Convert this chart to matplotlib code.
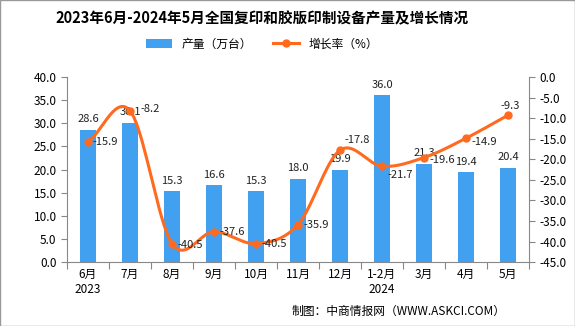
import numpy as np
import matplotlib
matplotlib.use("Agg")
import matplotlib.pyplot as plt

plt.rcParams['font.family'] = ['Noto Sans CJK SC', 'DejaVu Sans']

months = ["6月\n2023", "7月", "8月", "9月", "10月", "11月", "12月", "1-2月\n2024", "3月", "4月", "5月"]
output = [28.6, 30.1, 15.3, 16.6, 15.3, 18.0, 19.9, 36.0, 21.3, 19.4, 20.4]
growth = [-15.9, -8.2, -40.5, -37.6, -40.5, -35.9, -17.8, -21.7, -19.6, -14.9, -9.3]

bar_color = "#41A0F0"
line_color = "#FF6A1F"


def smooth(xs, ys, n=20):
    # Catmull-Rom spline through the points, close to Excel's smoothed line
    xs = np.asarray(xs, float)
    ys = np.asarray(ys, float)
    px = np.concatenate([[2 * xs[0] - xs[1]], xs, [2 * xs[-1] - xs[-2]]])
    py = np.concatenate([[2 * ys[0] - ys[1]], ys, [2 * ys[-1] - ys[-2]]])
    ox, oy = [], []
    t = np.linspace(0, 1, n, endpoint=False)
    for i in range(1, len(px) - 2):
        for p, o in ((px, ox), (py, oy)):
            p0, p1, p2, p3 = p[i - 1], p[i], p[i + 1], p[i + 2]
            o.extend(0.5 * (2 * p1 + (-p0 + p2) * t + (2 * p0 - 5 * p1 + 4 * p2 - p3) * t ** 2
                            + (-p0 + 3 * p1 - 3 * p2 + p3) * t ** 3))
    ox.append(xs[-1])
    oy.append(ys[-1])
    return np.array(ox), np.array(oy)


fig = plt.figure(figsize=(5.75, 3.26), dpi=100)
ax = fig.add_axes([0.1165, 0.196, 0.8035, 0.568])
ax2 = ax.twinx()

x = np.arange(len(months))
ax.bar(x, output, width=0.38, color=bar_color, label="产量（万台）", zorder=2)
for xi, v in zip(x, output):
    ax.text(xi, v + 1.2, f"{v:.1f}", ha="center", va="bottom", fontsize=8, color="#222222")

sx, sy = smooth(x, growth)
ax2.plot(sx, sy, color=line_color, lw=2.2, zorder=3)
ax2.plot(x, growth, "o", color=line_color, ms=5, zorder=4)
ax2.plot([], [], color=line_color, lw=2.2, marker="o", ms=5, label="增长率（%）")

label_off = {
    0: (0.1, 0, "left", "center"),
    1: (0.24, 0.3, "left", "center"),
    2: (0.12, -0.3, "left", "center"),
    3: (0.12, 0, "left", "center"),
    4: (0.12, 0, "left", "center"),
    5: (0.12, 0, "left", "center"),
    6: (0.1, 1.2, "left", "bottom"),
    7: (0.12, -1.0, "left", "top"),
    8: (0.12, -0.6, "left", "center"),
    9: (0.12, -0.9, "left", "center"),
    10: (0.05, 1.0, "center", "bottom"),
}
for i, v in enumerate(growth):
    dx, dy, ha, va = label_off[i]
    ax2.text(i + dx, v + dy, f"{v:.1f}", ha=ha, va=va, fontsize=8, color="#222222", zorder=5)

ax.set_xlim(-0.5, len(months) - 0.5)
ax.set_ylim(0, 40)
ax.set_yticks(np.arange(0, 40.1, 5))
ax.set_yticklabels([f"{v:.1f}" for v in np.arange(0, 40.1, 5)])
ax2.set_ylim(-45, 0)
ax2.set_yticks(np.arange(-45, 0.1, 5))
ax2.set_yticklabels([f"{v:.1f}" for v in np.arange(-45, 0.1, 5)])

ax.set_xticks(np.arange(-0.5, len(months), 1), minor=False)
ax.set_xticklabels([])
ax.set_xticks(x, minor=True)
ax.set_xticklabels(months, minor=True, fontsize=8.5)
ax.tick_params(axis="x", which="major", length=5, color="#888888")
ax.tick_params(axis="x", which="minor", length=0, pad=4)

for a in (ax, ax2):
    for s in a.spines.values():
        s.set_visible(False)
ax.spines["left"].set_visible(True)
ax.spines["bottom"].set_visible(True)
ax2.spines["right"].set_visible(True)
for s in (ax.spines["left"], ax.spines["bottom"], ax2.spines["right"]):
    s.set_color("#888888")
ax.tick_params(axis="y", labelsize=8.5, color="#888888", length=4)
ax2.tick_params(axis="y", labelsize=8.5, color="#888888", length=4)

fig.text(0.456, 0.945, "2023年6月-2024年5月全国复印和胶版印制设备产量及增长情况",
         ha="center", va="center", fontsize=10.5, fontweight="bold")
h1, l1 = ax.get_legend_handles_labels()
h2, l2 = ax2.get_legend_handles_labels()
fig.legend(h1 + h2, l1 + l2, loc="center", bbox_to_anchor=(0.456, 0.865), ncol=2,
           frameon=False, fontsize=8.5, handlelength=2.2, columnspacing=1.8)
fig.text(0.88, 0.045, "制图：中商情报网（WWW.ASKCI.COM）", ha="right", va="center", fontsize=8.5)

fig.patches.append(plt.Rectangle((0, 0), 1, 1, transform=fig.transFigure, fill=False,
                                 edgecolor="#999999", lw=1))

fig.savefig("out.png", dpi=100)
